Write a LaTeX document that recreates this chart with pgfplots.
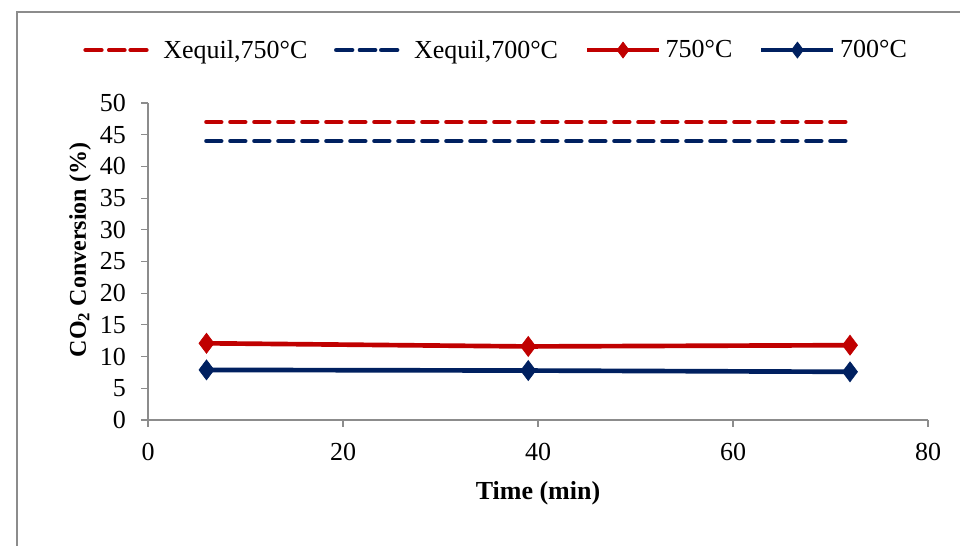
\documentclass[border=0pt]{standalone}
\usepackage{pgfplots}
\pgfplotsset{compat=1.18}
\usepackage{fontspec}
\setmainfont{Liberation Serif}
\definecolor{cred}{HTML}{C00000}
\definecolor{cblue}{HTML}{002060}
\definecolor{axgray}{HTML}{8C8C8C}
\pgfplotsset{
  dashleg/.style={legend image code/.code={\draw[##1, dash pattern=on 10pt off 6pt] (1.75pt,0pt) -- (43.75pt,0pt); \path (0pt,0pt) -- (45.5pt,0pt);}},
  markleg/.style={legend image code/.code={\draw[##1] (1.75pt,0pt) -- (52pt,0pt); \path (0pt,0pt) -- (53.75pt,0pt); \path[##1, mark size=6pt] plot coordinates {(27pt,0pt)};}},
}
\begin{document}
\begin{tikzpicture}
\useasboundingbox (0,0) rectangle (720pt,409.5pt);
\draw[axgray, line width=0.8pt] (12.75pt,400.5pt) rectangle (740pt,-20pt);
\begin{axis}[
  at={(111pt,94.5pt)}, anchor=south west,
  scale only axis, width=585pt, height=237.75pt,
  xmin=0, xmax=80, ymin=0, ymax=50,
  xtick={0,20,...,80}, ytick={0,5,...,50},
  axis x line*=bottom, axis y line*=left,
  axis line style={axgray, line width=0.8pt, -},
  tick style={axgray, line width=0.8pt},
  tick align=outside, major tick length=5pt,
  /pgf/number format/assume math mode=true,
  tick label style={font=\fontsize{19.5}{22}\selectfont},
  yticklabel style={xshift=-8pt},
  xticklabel style={yshift=-9pt},
  xlabel={\textbf{Time (min)}},
  ylabel={\textbf{CO$_{\mathbf{2}}$ Conversion (\%)}},
  xlabel style={font=\fontsize{19.5}{22}\selectfont, at={(axis description cs:0.5,-0.23)}, anchor=center},
  ylabel style={font=\fontsize{18}{21}\selectfont, at={(axis description cs:-0.087,0.536)}, anchor=center},
  legend columns=4,
  legend style={draw=none, at={(0.445,1.167)}, anchor=center,
    font=\fontsize{19.5}{22}\selectfont, nodes={inner xsep=0pt},
    /tikz/every odd column/.append style={column sep=0pt},
    /tikz/every even column/.append style={column sep=20pt}},
]
\addplot[cred, line width=3.5pt, dash pattern=on 11pt off 7pt, line cap=round, mark=none, dashleg] coordinates {(6,47) (39,47) (72,47)};
\addlegendentry{\hspace{11pt}Xequil,750°C}
\addplot[cblue, line width=3.5pt, dash pattern=on 11pt off 7pt, line cap=round, mark=none, dashleg] coordinates {(6,44) (39,44) (72,44)};
\addlegendentry{\hspace{11pt}Xequil,700°C}
\addplot[cred, line width=3.5pt, mark=diamond*, mark size=7.5pt, mark options={solid, fill=cred, line width=0.5pt}, markleg] coordinates {(6,12.1) (39,11.6) (72,11.8)};
\addlegendentry{\hspace{3.5pt}750°C}
\addplot[cblue, line width=3.5pt, mark=diamond*, mark size=7.5pt, mark options={solid, fill=cblue, line width=0.5pt}, markleg] coordinates {(6,7.9) (39,7.8) (72,7.6)};
\addlegendentry{\hspace{3.5pt}700°C}
\end{axis}
\end{tikzpicture}
\end{document}
